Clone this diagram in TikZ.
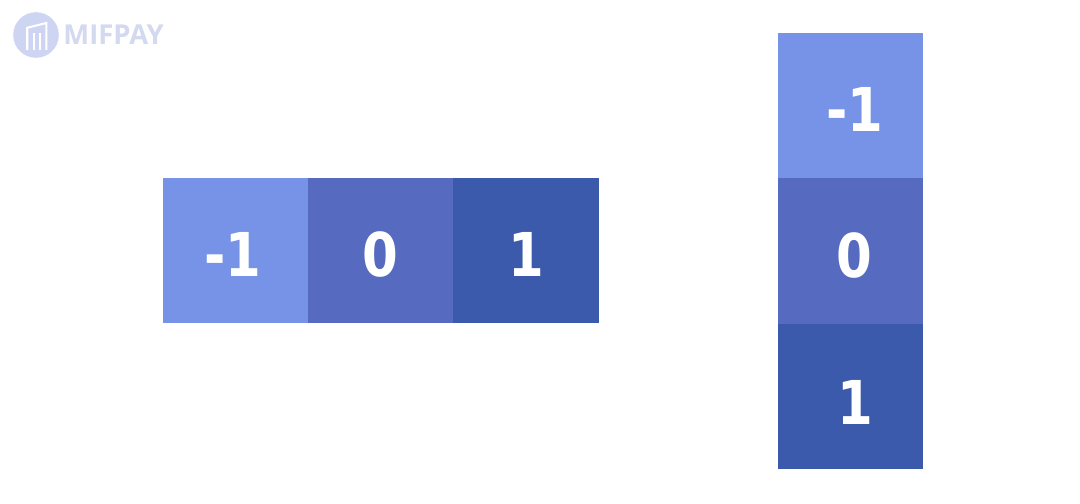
\documentclass[tikz,border=0pt]{standalone}
\usepackage{fontspec}
\setmainfont{DejaVu Sans}[FakeStretch=0.85]
\newfontfamily\brandfont{Open Sans}
\usepackage{xcolor}
\usetikzlibrary{positioning}
\definecolor{celllight}{HTML}{7793E8}
\definecolor{cellmid}{HTML}{566BBF}
\definecolor{celldark}{HTML}{3C5AAB}
\definecolor{logoblue}{HTML}{CDD5F2}
\definecolor{logotext}{HTML}{D3D9EE}
\tikzset{
  cell/.style={minimum width=3.633cm,minimum height=3.633cm,inner sep=0pt,outer sep=0pt,
    text=white,font=\fontsize{43}{43}\bfseries\selectfont,text height=1.275cm,text depth=0pt},
}

\begin{document}
\begin{tikzpicture}
  \useasboundingbox[fill=white] (0,0) rectangle (27,12.575);

  % Logo top left
  \coordinate (L) at (0.9,11.7);
  \fill[logoblue] (L) circle (0.57);
  \draw[white,line width=1.5pt] (0.68,11.33) -- (0.68,11.88) -- (1.16,12.0) -- (1.16,11.33);
  \draw[white,line width=1.5pt] (0.86,11.33) -- (0.86,11.75);
  \draw[white,line width=1.5pt] (1.0,11.33) -- (1.0,11.75);
  \node[right,inner sep=0pt,text=logotext,font=\brandfont\fontsize{19.5}{19.5}\bfseries\selectfont] (brand) at (1.58,11.7) {MIFPAY};

  % Row
  \node[cell,fill=celllight,anchor=north west] (rowa) at (4.07,8.125) {\hspace*{-0.12cm}-1};
  \node[cell,fill=cellmid,right=0pt of rowa] (rowb) {0};
  \node[cell,fill=celldark,right=0pt of rowb] (rowc) {1};

  % Column
  \node[cell,fill=celllight,anchor=north west] (cola) at (19.45,11.75) {\hspace*{0.2cm}-1};
  \node[cell,fill=cellmid,below=0pt of cola,text height=1.31cm] (colb) {\hspace*{0.18cm}0};
  \node[cell,fill=celldark,below=0pt of colb,text height=1.4cm] (colc) {\hspace*{0.25cm}1};
\end{tikzpicture}
\end{document}
